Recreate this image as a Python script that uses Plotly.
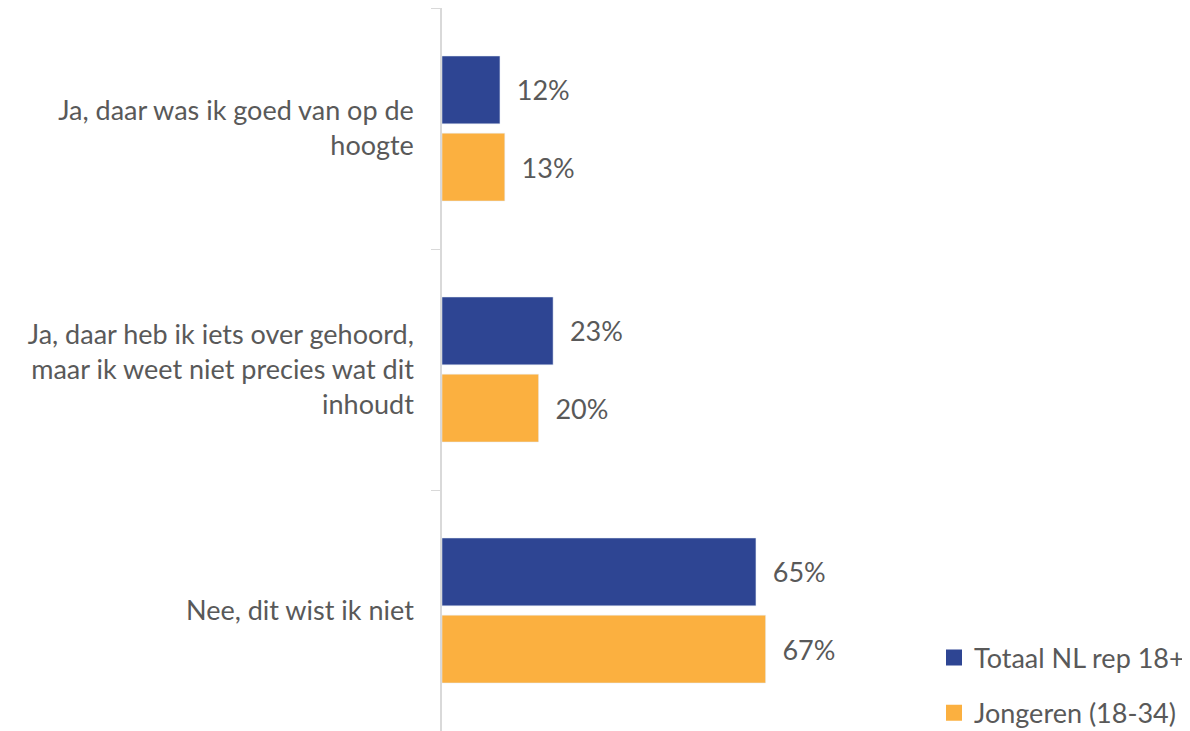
import plotly.graph_objects as go

categories = [
    "Ja, daar was ik goed van op de<br>hoogte",
    "Ja, daar heb ik iets over gehoord,<br>maar ik weet niet precies wat dit<br>inhoudt",
    "Nee, dit wist ik niet",
]
totaal = [12, 23, 65]
jongeren = [13, 20, 67]
series_names = ["Totaal NL rep 18+", "Jongeren (18-34)"]

blue = "#2E4593"
orange = "#FBB040"
grey_text = "#595959"
font_family = "Lato, 'Noto Sans', sans-serif"
fsize = 27

fig = go.Figure()
for name, vals, col in [(series_names[0], totaal, blue), (series_names[1], jongeren, orange)]:
    fig.add_trace(go.Bar(
        name=name,
        orientation="h",
        y=categories,
        x=vals,
        marker_color=col,
        text=[f"\u00a0\u00a0{v}%" for v in vals],
        textposition="outside",
        textfont=dict(size=fsize, color=grey_text, family=font_family),
        cliponaxis=False,
        showlegend=False,
    ))
    # legend entry with a bigger square swatch
    fig.add_trace(go.Scatter(
        name=name, x=[None], y=[None], mode="markers",
        marker=dict(symbol="square", size=16, color=col),
        legendgroup=name, showlegend=True,
    ))

# the page body has an 8px margin, so the figure is 8px smaller than the window
fig.update_layout(
    width=1182, height=723,
    margin=dict(l=434, r=265, t=0, b=0, autoexpand=False),
    barmode="group",
    bargap=0.36,
    bargroupgap=0.12,
    plot_bgcolor="white",
    paper_bgcolor="white",
    font=dict(family=font_family, size=fsize, color=grey_text),
    legend=dict(
        xref="container", x=1.0, xanchor="right",
        yref="paper", y=-0.009, yanchor="bottom",
        traceorder="grouped", tracegroupgap=17,
        font=dict(size=fsize, color=grey_text),
        itemwidth=30,
    ),
)
fig.update_xaxes(range=[0, 100], visible=False)
fig.update_yaxes(
    autorange="reversed",
    automargin=False,
    showline=True, linecolor="#d9d9d9", linewidth=1.5,
    ticks="outside", tickson="boundaries", ticklen=9, tickcolor="#d9d9d9",
    ticklabelstandoff=21,
    showgrid=False,
    tickfont=dict(size=fsize, color=grey_text),
)

fig.write_html("out.html")
